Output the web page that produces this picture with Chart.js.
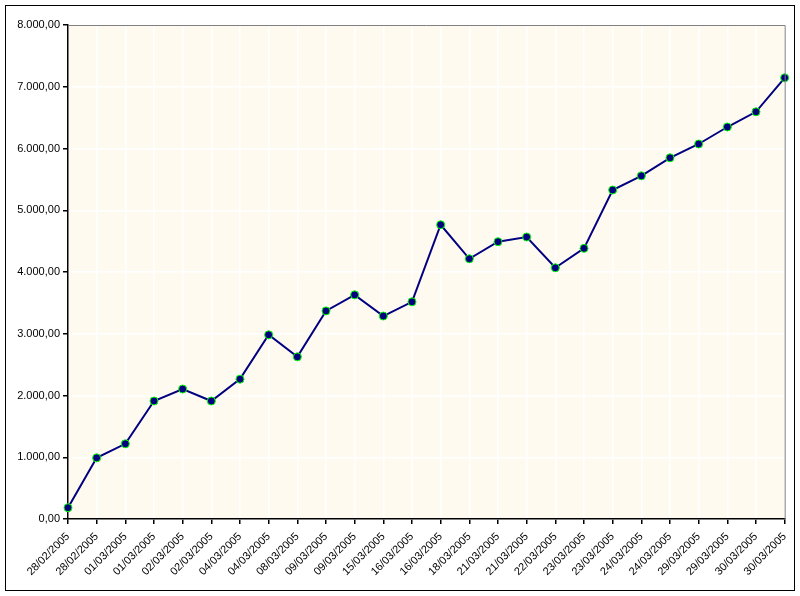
<!DOCTYPE html>
<html>
<head>
<meta charset="utf-8">
<script src="https://cdn.jsdelivr.net/npm/chart.js@4"></script>
<style>
  html, body { margin: 0; padding: 0; background: #ffffff; }
  #wrap { width: 800px; height: 596px; position: relative; }
</style>
</head>
<body>
<div id="wrap"><canvas id="grafico" width="800" height="596"></canvas></div>
<script>
// fechas del eje X (una por punto)
const fechas = [
  "28/02/2005", "28/02/2005", "01/03/2005", "01/03/2005", "02/03/2005",
  "02/03/2005", "04/03/2005", "04/03/2005", "08/03/2005", "09/03/2005",
  "09/03/2005", "15/03/2005", "16/03/2005", "16/03/2005", "18/03/2005",
  "21/03/2005", "21/03/2005", "22/03/2005", "23/03/2005", "23/03/2005",
  "24/03/2005", "24/03/2005", "29/03/2005", "29/03/2005", "30/03/2005",
  "30/03/2005"
];

// valores
const valores = [
  183, 990, 1218, 1911, 2105,
  1911, 2265, 2983, 2626, 3370,
  3630, 3287, 3517, 4765, 4214,
  4490, 4567, 4068, 4383, 5328,
  5557, 5849, 6073, 6348, 6594,
  7145
];

const ejeYMin = 0;
const ejeYMax = 8000;
const ejeYPaso = 1000;

function formatoNumero(valor) {
  const partes = valor.toFixed(2).split(".");
  const entero = partes[0].replace(/\B(?=(\d{3})+(?!\d))/g, ".");
  return entero + "," + partes[1];
}

// fondo del area de trazado, marco gris y borde exterior
const fondoPlugin = {
  id: "fondo",
  beforeDraw(chart) {
    const ctx = chart.ctx;
    const area = chart.chartArea;
    ctx.save();
    ctx.fillStyle = "#ffffff";
    ctx.fillRect(0, 0, chart.width, chart.height);
    ctx.fillStyle = "#fffaef";
    ctx.fillRect(area.left, area.top, area.right - area.left, area.bottom - area.top);
    ctx.restore();
  },
  afterDraw(chart) {
    const ctx = chart.ctx;
    const area = chart.chartArea;
    ctx.save();
    ctx.strokeStyle = "#808080";
    ctx.lineWidth = 1;
    ctx.beginPath();
    ctx.moveTo(area.left, area.top + 0.5);
    ctx.lineTo(area.right + 0.5, area.top + 0.5);
    ctx.lineTo(area.right + 0.5, area.bottom);
    ctx.stroke();
    ctx.strokeStyle = "#000000";
    ctx.strokeRect(5.5, 5.5, chart.width - 11, chart.height - 11);
    ctx.restore();
  }
};

const config = {
  type: "line",
  data: {
    labels: fechas,
    datasets: [
      {
        data: valores,
        borderColor: "#000080",
        borderWidth: 2,
        backgroundColor: "#000080",
        pointBackgroundColor: "#000080",
        pointBorderColor: "#00ff00",
        pointBorderWidth: 1,
        pointRadius: 4,
        pointStyle: "circle",
        tension: 0,
        fill: false,
      },
    ],
  },
  options: {
    responsive: false,
    animation: false,
    devicePixelRatio: 1,
    layout: {
      padding: { top: 25, right: 14, left: 0, bottom: 0 },
    },
    plugins: {
      legend: { display: false },
      tooltip: { enabled: false },
      title: { display: false },
    },
    scales: {
      x: {
        offset: false,
        grid: {
          color: "#ffffff",
          lineWidth: 1.5,
          tickColor: "#000000",
          tickLength: 5,
          offset: false,
        },
        border: { display: true, color: "#000000", width: 1.5 },
        ticks: {
          color: "#000000",
          font: { family: "Liberation Sans, Arial, sans-serif", size: 11 },
          minRotation: 45,
          maxRotation: 45,
          autoSkip: false,
          padding: 6,
        },
        afterFit(scale) {
          scale.height = 596 - 519;
        },
      },
      y: {
        min: ejeYMin,
        max: ejeYMax,
        grid: {
          color: "#ffffff",
          lineWidth: 1.5,
          tickColor: "#000000",
          tickLength: 5,
        },
        border: { display: true, color: "#000000", width: 1.5 },
        ticks: {
          stepSize: ejeYPaso,
          color: "#000000",
          font: { family: "Liberation Sans, Arial, sans-serif", size: 11 },
          padding: 3,
          callback: (valor) => formatoNumero(valor),
        },
        afterFit(scale) {
          scale.width = 68;
        },
      },
    },
  },
  plugins: [fondoPlugin],
};

const chartDOM = document.getElementById("grafico");
const grafico = new Chart(chartDOM, config);
</script>
</body>
</html>
